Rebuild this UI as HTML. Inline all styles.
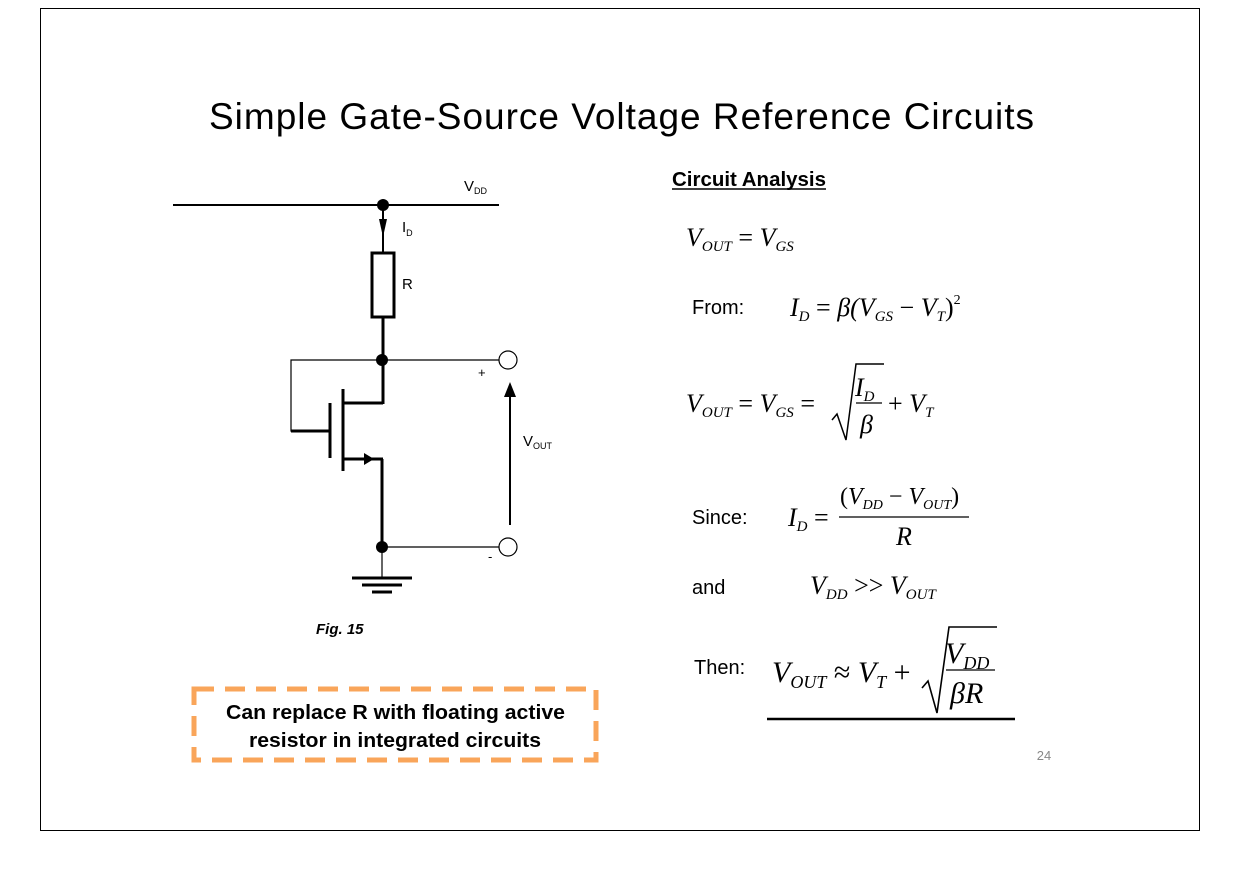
<!DOCTYPE html>
<html><head><meta charset="utf-8"><style>
html,body{margin:0;padding:0;background:#fff;}
svg{display:block;}
.s{font-family:"Liberation Sans",sans-serif;}
.m{font-family:"Liberation Serif",serif;font-style:italic;}
.r{font-family:"Liberation Serif",serif;}
</style></head><body>
<svg width="1240" height="877" viewBox="0 0 1240 877" xmlns="http://www.w3.org/2000/svg">
<rect x="40.5" y="8.5" width="1159" height="822" fill="#fff" stroke="#000" stroke-width="1"/>
<text x="209" y="129" class="s" font-size="37" textLength="825" lengthAdjust="spacing">Simple Gate-Source Voltage Reference Circuits</text>

<!-- circuit -->
<g stroke="#000" fill="none">
<line x1="173" y1="205" x2="499" y2="205" stroke-width="2"/>
<line x1="383" y1="205" x2="383" y2="253" stroke-width="2"/>
<rect x="372" y="253" width="22" height="64" stroke-width="3"/>
<line x1="383" y1="317" x2="383" y2="404" stroke-width="3"/>
<line x1="383" y1="360" x2="499" y2="360" stroke-width="1.2"/>
<circle cx="508" cy="360" r="9" stroke-width="1.2"/>
<polyline points="383,360 291,360 291,431 330,431" stroke-width="1.2"/>
<line x1="291" y1="431" x2="330" y2="431" stroke-width="3"/>
<line x1="330" y1="403" x2="330" y2="458" stroke-width="3"/>
<line x1="343" y1="389" x2="343" y2="471" stroke-width="3"/>
<line x1="343" y1="403" x2="383" y2="403" stroke-width="3"/>
<line x1="343" y1="459" x2="383" y2="459" stroke-width="3"/>
<line x1="382" y1="459" x2="382" y2="547" stroke-width="3"/>
<line x1="383" y1="547" x2="499" y2="547" stroke-width="1.2"/>
<circle cx="508" cy="547" r="9" stroke-width="1.2"/>
<line x1="382" y1="547" x2="382" y2="577" stroke-width="1.2"/>
<line x1="352" y1="578" x2="412" y2="578" stroke-width="3"/>
<line x1="362" y1="585" x2="402" y2="585" stroke-width="3"/>
<line x1="372" y1="592" x2="392" y2="592" stroke-width="3"/>
<line x1="510" y1="525" x2="510" y2="395" stroke-width="2"/>
</g>
<g fill="#000">
<circle cx="383" cy="205" r="6"/>
<circle cx="382" cy="360" r="6"/>
<circle cx="382" cy="547" r="6"/>
<polygon points="379,219 387,219 383,237"/>
<polygon points="364,453 364,465 374,459"/>
<polygon points="504,397 516,397 510,382"/>
</g>
<g class="s" font-size="15">
<text x="464" y="191">V<tspan font-size="9" dy="3">DD</tspan></text>
<text x="402" y="232">I<tspan font-size="9" dy="4">D</tspan></text>
<text x="402" y="289">R</text>
<text x="478" y="377" font-size="13">+</text>
<text x="488" y="561" font-size="13">-</text>
<text x="523" y="446">V<tspan font-size="9" dy="3">OUT</tspan></text>
</g>
<text x="316" y="634" class="s" font-size="15" font-weight="bold" font-style="italic">Fig. 15</text>

<rect x="194" y="689" width="402" height="71" fill="none" stroke="#f9a55a" stroke-width="5" stroke-dasharray="20,11"/>
<text x="226" y="719" class="s" font-size="20" font-weight="bold" textLength="339" lengthAdjust="spacingAndGlyphs">Can replace R with floating active</text>
<text x="249" y="747" class="s" font-size="20" font-weight="bold" textLength="292" lengthAdjust="spacingAndGlyphs">resistor in integrated circuits</text>

<!-- analysis -->
<text x="672" y="186" class="s" font-size="20" font-weight="bold" textLength="154" lengthAdjust="spacingAndGlyphs">Circuit Analysis</text>
<line x1="672" y1="189" x2="826" y2="189" stroke="#000" stroke-width="1.5"/>

<g font-size="26">
<text x="686" y="246" class="m">V<tspan font-size="15" dy="5">OUT</tspan><tspan dy="-5" class="r" font-style="normal"> = </tspan>V<tspan font-size="15" dy="5">GS</tspan></text>

<text x="692" y="314" class="s" font-size="20">From:</text>
<text x="790" y="316" class="m">I<tspan font-size="15" dy="5">D</tspan><tspan dy="-5" font-style="normal"> = </tspan>β(V<tspan font-size="15" dy="5">GS</tspan><tspan dy="-5" font-style="normal"> − </tspan>V<tspan font-size="15" dy="5">T</tspan><tspan dy="-5" font-style="normal">)</tspan><tspan font-size="14" dy="-12" font-style="normal">2</tspan></text>

<text x="686" y="412" class="m">V<tspan font-size="15" dy="5">OUT</tspan><tspan dy="-5" font-style="normal"> = </tspan>V<tspan font-size="15" dy="5">GS</tspan><tspan dy="-5" font-style="normal"> =</tspan></text>
<polyline points="832,420 837,414 846,440 856,364 884,364" fill="none" stroke="#000" stroke-width="1.5"/>
<text x="855" y="396" class="m">I<tspan font-size="15" dy="5">D</tspan></text>
<line x1="856" y1="403" x2="882" y2="403" stroke="#000" stroke-width="1.2"/>
<text x="860" y="433" class="m">β</text>
<text x="888" y="412" class="m"><tspan font-style="normal">+ </tspan>V<tspan font-size="15" dy="5">T</tspan></text>

<text x="692" y="524" class="s" font-size="20">Since:</text>
<text x="788" y="526" class="m">I<tspan font-size="15" dy="5">D</tspan><tspan dy="-5" font-style="normal"> =</tspan></text>
<text x="840" y="504" class="m" font-size="24"><tspan font-style="normal">(</tspan>V<tspan font-size="14" dy="5">DD</tspan><tspan dy="-5" font-style="normal"> − </tspan>V<tspan font-size="14" dy="5">OUT</tspan><tspan dy="-5" font-style="normal">)</tspan></text>
<line x1="839" y1="517" x2="969" y2="517" stroke="#000" stroke-width="1.2"/>
<text x="896" y="545" class="m">R</text>

<text x="692" y="594" class="s" font-size="20">and</text>
<text x="810" y="594" class="m">V<tspan font-size="15" dy="5">DD</tspan><tspan dy="-5" font-style="normal"> &gt;&gt; </tspan>V<tspan font-size="15" dy="5">OUT</tspan></text>

<text x="694" y="674" class="s" font-size="20">Then:</text>
<text x="772" y="682" class="m" font-size="30">V<tspan font-size="18" dy="6">OUT</tspan><tspan dy="-6" font-style="normal"> ≈ </tspan>V<tspan font-size="18" dy="6">T</tspan><tspan dy="-6" font-style="normal"> +</tspan></text>
<polyline points="922,688 928,681 937,713 949,627 997,627" fill="none" stroke="#000" stroke-width="1.6"/>
<text x="945" y="663" class="m" font-size="30">V<tspan font-size="18" dy="6">DD</tspan></text>
<line x1="946" y1="670" x2="995" y2="670" stroke="#000" stroke-width="1.2"/>
<text x="950" y="703" class="m" font-size="30">βR</text>
</g>
<line x1="767" y1="719" x2="1015" y2="719" stroke="#000" stroke-width="2.5"/>

<text x="1044" y="760" class="s" font-size="13" fill="#888" text-anchor="middle">24</text>
</svg>
</body></html>
